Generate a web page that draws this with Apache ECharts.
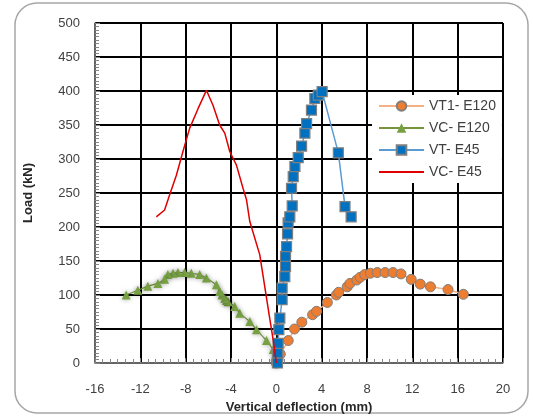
<!DOCTYPE html>
<html><head><meta charset="utf-8">
<script src="https://cdn.jsdelivr.net/npm/echarts@6/dist/echarts.min.js"></script>
<style>html,body{margin:0;padding:0;background:#fff}#c{width:533px;height:416px}</style>
</head><body><div id="c"></div>
<script>
const xTicks = [-16,-12,-8,-4,0,4,8,12,16,20];
const yTicks = [0,50,100,150,200,250,300,350,400,450,500];
const seriesNames = ['VT1- E120','VC- E120','VT- E45','VC- E45'];

const vt1E120X = [0,0.15,0.35,1.05,1.6,2.25,3.2,3.55,4.5,5.3,5.5,6.25,6.5,7.1,7.4,7.8,8.3,8.9,9.6,10.3,11.0,11.9,12.7,13.6,15.15,16.5];
const vt1E120Y = [0,5,13,33,50,60,71,76,89,100,104,112,117,122,126,130,132,133,133,133,131,123,116,112,108,101];

const vcE120X = [0,-0.13,-0.28,-0.87,-1.75,-2.34,-3.23,-3.67,-4.26,-4.4,-4.55,-4.8,-5.0,-5.29,-6.17,-6.76,-7.5,-8.09,-8.68,-9.12,-9.57,-9.86,-10.45,-11.34,-12.22,-13.25];
const vcE120Y = [0,10,20,33,49,61,73,83,90,92,95,100,105,115,125,130,132,133,133,132,130,123,117,113,107,100];

const vtE45X = [0.1,0.1,0.16,0.22,0.31,0.51,0.51,0.75,0.81,0.81,0.9,0.99,1.04,1.19,1.4,1.34,1.49,1.64,1.93,2.23,2.52,2.67,3.1,3.4,3.7,4.04,5.47,6.06,6.6];
const vtE45Y = [0,15,29,49,66,93,110,127,142,157,171,190,206,215,231,257,274,289,302,319,338,352,372,389,394,399,309,230,215];

const vcE45X = [-10.59,-9.86,-9.42,-8.82,-8.24,-7.65,-6.91,-6.17,-5.59,-5.0,-4.55,-4.11,-3.52,-2.94,-2.63,-2.34,-1.46,-0.57,-0.28,0];
const vcE45Y = [215,225,247,276,311,345,374,401,379,350,338,311,291,257,240,208,159,64,34,0];

const zip = (a,b) => a.map((v,i)=>[v,b[i]]);
const font = 'Liberation Sans, Arial, sans-serif';
const chart = echarts.init(document.getElementById('c'), null, {renderer:'canvas'});
chart.setOption({
  animation:false,
  backgroundColor:'#fff',
  graphic:[{type:'rect',shape:{x:15,y:3,width:513,height:410,r:22},style:{fill:'none',stroke:'#a6a6a6',lineWidth:1.5},z:-10}],
  grid:{left:95,right:30,top:23,bottom:53,containLabel:false,outerBoundsMode:'none'},
  legend:{
    data:[seriesNames[0],seriesNames[1],seriesNames[2],
      {name:seriesNames[3],itemStyle:{color:'rgba(0,0,0,0)',borderWidth:0,opacity:0}}],
    orient:'vertical', left:372, top:95, itemGap:8,
    itemWidth:45, itemHeight:12, backgroundColor:'#fff', padding:[4,6,4,6],
    textStyle:{fontFamily:font,fontSize:14,color:'#404040'}
  },
  xAxis:{type:'value',min:-16,max:20,interval:4,
    name:'Vertical deflection (mm)',nameLocation:'middle',nameGap:37,
    nameTextStyle:{fontFamily:font,fontSize:13,fontWeight:'bold',color:'#262626'},
    axisLine:{onZero:false,lineStyle:{color:'#868686',width:1.5}},
    axisTick:{show:true,inside:true,length:5,lineStyle:{color:'#868686'}},
    minorTick:{show:true,splitNumber:6,length:4,lineStyle:{color:'#868686'}},
    axisLabel:{fontFamily:font,fontSize:13,color:'#404040',margin:20,formatter:v=>xTicks.includes(v)?String(v):''},
    splitLine:{show:true,lineStyle:{color:'#000',width:2}}
  },
  yAxis:{type:'value',min:0,max:500,interval:50,
    name:'Load (kN)',nameLocation:'middle',nameGap:60,nameRotate:90,
    nameTextStyle:{fontFamily:font,fontSize:13,fontWeight:'bold',color:'#262626'},
    axisLine:{show:true,onZero:false,lineStyle:{color:'#868686',width:1.5}},
    axisTick:{show:true,inside:true,length:5,lineStyle:{color:'#868686'}},
    minorTick:{show:true,splitNumber:10,length:4,lineStyle:{color:'#868686'}},
    axisLabel:{fontFamily:font,fontSize:13,color:'#404040',margin:15,formatter:v=>yTicks.includes(v)?String(v):''},
    splitLine:{show:true,lineStyle:{color:'#000',width:2}}
  },
  series:[
    {name:seriesNames[0],type:'line',data:zip(vt1E120X,vt1E120Y),symbol:'circle',symbolSize:10,
     lineStyle:{color:'#F4B183',width:1.5},
     itemStyle:{color:'#ED7D31',borderColor:'#7f7f7f',borderWidth:1},z:3},
    {name:seriesNames[1],type:'line',data:zip(vcE120X,vcE120Y),symbol:'triangle',symbolSize:9,
     lineStyle:{color:'#77933C',width:1.2,shadowBlur:4,shadowColor:'rgba(0,0,0,0.25)'},
     itemStyle:{color:'#77A043',shadowBlur:5,shadowColor:'rgba(0,0,0,0.35)'},z:3},
    {name:seriesNames[2],type:'line',data:zip(vtE45X,vtE45Y),symbol:'rect',symbolSize:10,
     lineStyle:{color:'#5B9BD5',width:1.5},
     itemStyle:{color:'#0070C0',borderColor:'#7f7f7f',borderWidth:1.2},z:4},
    {name:seriesNames[3],type:'line',data:zip(vcE45X,vcE45Y),showSymbol:false,
     lineStyle:{color:'#E00000',width:1.5},itemStyle:{color:'#E00000'},z:5}
  ]
});
</script></body></html>
